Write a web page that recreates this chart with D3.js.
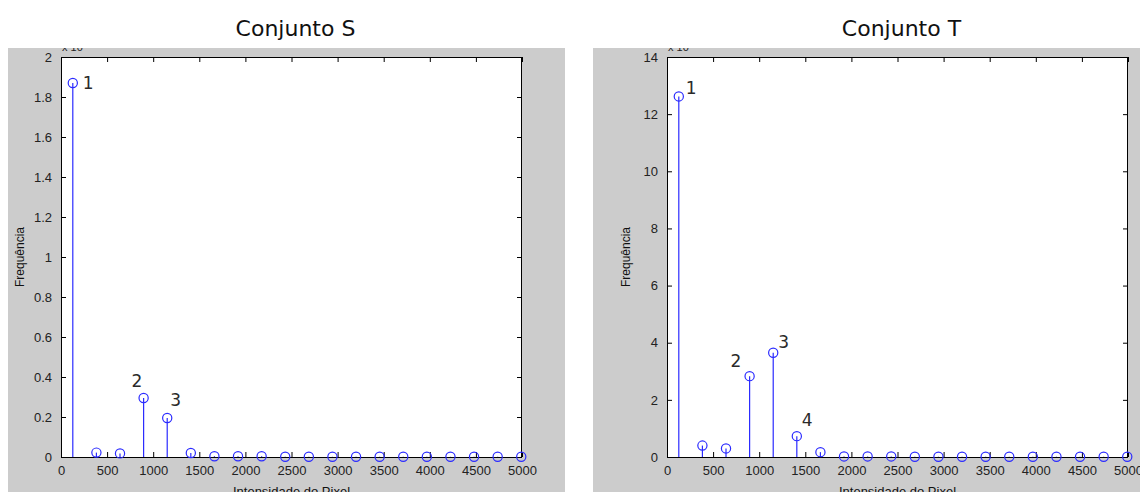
<!DOCTYPE html>
<html>
<head>
<meta charset="utf-8">
<script src="https://cdn.jsdelivr.net/npm/d3@7"></script>
<style>
  html, body { margin: 0; padding: 0; background: #fff; }
  svg { display: block; }
</style>
</head>
<body>
<svg id="chart" width="1140" height="492"></svg>
<script>
// histogram bin centres (pixel intensity)
const binCenters = [128, 384, 640, 896, 1152, 1408, 1664, 1920, 2176, 2432,
  2688, 2944, 3200, 3456, 3712, 3968, 4224, 4480, 4736, 4992];

// frequencies, in units of 10^4
const freqS = [1.87, 0.022, 0.018, 0.295, 0.195, 0.02, 0.004, 0.004, 0.004, 0.001,
  0.001, 0.001, 0.001, 0.001, 0.001, 0.001, 0.001, 0.001, 0.001, 0.001];
const freqT = [12.62, 0.40, 0.30, 2.83, 3.65, 0.73, 0.17, 0.02, 0.02, 0.02,
  0.01, 0.01, 0.01, 0.01, 0.01, 0.01, 0.01, 0.01, 0.01, 0.01];

const xTicks = d3.range(0, 5001, 500);
const yTicksS = d3.range(0, 2.0001, 0.2);
const yTicksT = d3.range(0, 14.001, 2);

// numbered peaks: bin index + label
const peaksS = [{ i: 0, label: '1' }, { i: 3, label: '2' }, { i: 4, label: '3' }];
const peaksT = [{ i: 0, label: '1' }, { i: 3, label: '2' }, { i: 4, label: '3' }, { i: 5, label: '4' }];

const titles = ['Conjunto S', 'Conjunto T'];

const svg = d3.select('#chart');
const BLUE = '#2b2bff';
const TICK_FONT = 'Liberation Sans, Arial, sans-serif';
const LABEL_FONT = 'DejaVu Sans, Open Sans, sans-serif';

// pixel offsets for the peak numbers (relative to the marker)
const peakOffsets = {
  S: [[10, 6], [-12, -11], [3, -12]],
  T: [[7, -2], [-19, -9], [5, -5], [5, -10]],
};

function drawPanel(cfg) {
  const { key, panelX, panelW, left, right, yMax, yTicks, values, peaks, title } = cfg;
  const top = 57;
  const bottom = 457;
  const panelY = 48;

  svg.append('text')
    .attr('x', (left + right) / 2 + 4)
    .attr('y', 36)
    .attr('text-anchor', 'middle')
    .style('font-family', LABEL_FONT)
    .style('font-size', '22px')
    .style('fill', '#111')
    .text(title);

  const clipId = `clip-${key}`;
  svg.append('clipPath').attr('id', clipId)
    .append('rect')
    .attr('x', panelX).attr('y', panelY)
    .attr('width', panelW).attr('height', 492 - panelY);

  const g = svg.append('g').attr('clip-path', `url(#${clipId})`);

  g.append('rect')
    .attr('x', panelX).attr('y', panelY)
    .attr('width', panelW).attr('height', 492 - panelY)
    .style('fill', '#cccccc');

  g.append('rect')
    .attr('x', left).attr('y', top)
    .attr('width', right - left).attr('height', bottom - top)
    .style('fill', '#fff');

  const x = d3.scaleLinear().domain([0, 5000]).range([left, right]);
  const y = d3.scaleLinear().domain([0, yMax]).range([bottom, top]);

  // exponent label (mostly cut off by the panel's top edge)
  const expo = g.append('text')
    .attr('x', left + 1)
    .attr('y', panelY + 3)
    .style('font-family', TICK_FONT)
    .style('font-size', '11px')
    .style('fill', '#222');
  expo.append('tspan').text('x 10');
  expo.append('tspan').attr('dy', -4).style('font-size', '8px').text('4');

  // stems
  g.append('g').selectAll('line')
    .data(values)
    .join('line')
    .attr('x1', (d, i) => x(binCenters[i]))
    .attr('x2', (d, i) => x(binCenters[i]))
    .attr('y1', y(0))
    .attr('y2', d => y(d))
    .style('stroke', BLUE)
    .style('stroke-width', 1.2);

  // frame + ticks
  const tickLen = 5;
  const axisStyle = sel => {
    sel.select('.domain').remove();
    sel.selectAll('.tick line').style('stroke', '#000');
    sel.selectAll('.tick text')
      .style('font-family', TICK_FONT)
      .style('font-size', '13px')
      .style('fill', '#222');
  };

  g.append('g')
    .attr('transform', `translate(0,${bottom})`)
    .call(d3.axisBottom(x).tickValues(xTicks).tickSize(-tickLen).tickPadding(9).tickFormat(d3.format('d')))
    .call(axisStyle);

  g.append('g')
    .attr('transform', `translate(0,${top})`)
    .call(d3.axisTop(x).tickValues(xTicks).tickSize(-tickLen).tickFormat(''))
    .call(axisStyle);

  g.append('g')
    .attr('transform', `translate(${left},0)`)
    .call(d3.axisLeft(y).tickValues(yTicks).tickSize(-tickLen).tickPadding(9).tickFormat(d3.format('~g')))
    .call(axisStyle);

  g.append('g')
    .attr('transform', `translate(${right},0)`)
    .call(d3.axisRight(y).tickValues(yTicks).tickSize(-tickLen).tickFormat(''))
    .call(axisStyle);

  g.append('rect')
    .attr('x', left + 0.5).attr('y', top + 0.5)
    .attr('width', right - left - 1).attr('height', bottom - top)
    .style('fill', 'none')
    .style('stroke', '#000')
    .style('stroke-width', 1);

  // markers
  g.append('g').selectAll('circle')
    .data(values)
    .join('circle')
    .attr('cx', (d, i) => x(binCenters[i]))
    .attr('cy', d => y(d))
    .attr('r', 4.6)
    .style('fill', 'none')
    .style('stroke', BLUE)
    .style('stroke-width', 1.2);

  // peak numbers
  g.append('g').selectAll('text')
    .data(peaks)
    .join('text')
    .attr('x', (d, k) => x(binCenters[d.i]) + peakOffsets[key][k][0])
    .attr('y', (d, k) => y(values[d.i]) + peakOffsets[key][k][1])
    .style('font-family', LABEL_FONT)
    .style('font-size', '17px')
    .style('fill', '#2a2a2a')
    .text(d => d.label);

  // axis titles
  g.append('text')
    .attr('transform', `translate(${left - 37},${(top + bottom) / 2}) rotate(-90)`)
    .attr('text-anchor', 'middle')
    .style('font-family', TICK_FONT)
    .style('font-size', '12px')
    .style('fill', '#111')
    .text('Frequência');

  g.append('text')
    .attr('x', (left + right) / 2)
    .attr('y', 496)
    .attr('text-anchor', 'middle')
    .style('font-family', TICK_FONT)
    .style('font-size', '13px')
    .style('fill', '#111')
    .text('Intensidade do Pixel');
}

drawPanel({
  key: 'S', panelX: 8, panelW: 557, left: 61, right: 522,
  yMax: 2, yTicks: yTicksS, values: freqS, peaks: peaksS, title: titles[0],
});

drawPanel({
  key: 'T', panelX: 593, panelW: 547, left: 667, right: 1128,
  yMax: 14, yTicks: yTicksT, values: freqT, peaks: peaksT, title: titles[1],
});
</script>
</body>
</html>
